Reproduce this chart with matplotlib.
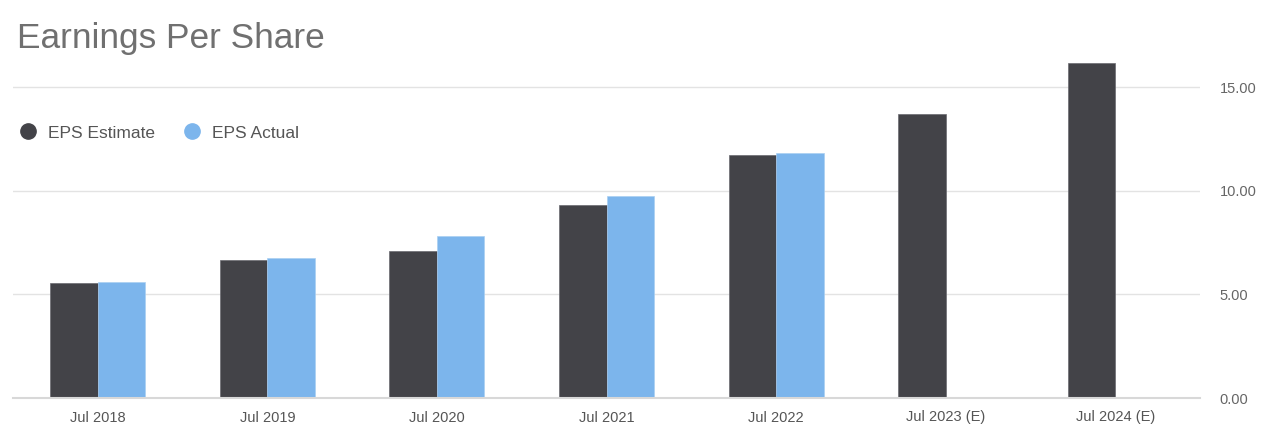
import matplotlib.pyplot as plt
import numpy as np
from matplotlib.lines import Line2D

plt.rcParams['font.family'] = ['Liberation Sans', 'DejaVu Sans']

# data
periods = ["Jul 2018", "Jul 2019", "Jul 2020", "Jul 2021", "Jul 2022",
           "Jul 2023 (E)", "Jul 2024 (E)"]
eps_estimate = [5.54, 6.65, 7.09, 9.31, 11.72, 13.69, 16.15]
eps_actual = [5.59, 6.75, 7.81, 9.74, 11.81, np.nan, np.nan]
y_ticks = [0, 5, 10, 15]

c_est = "#434348"
c_act = "#7cb5ec"

fig = plt.figure(figsize=(12.68, 4.28), dpi=100)
ax = fig.add_axes([13 / 1268, 1 - 398 / 428, (1200 - 13) / 1268, (398 - 56) / 428])

x = np.arange(len(periods))
w = 0.28
ax.bar(x - w / 2, eps_estimate, width=w, color=c_est, edgecolor="#6a6a70", linewidth=0.5, zorder=3)
ax.bar(x + w / 2, eps_actual, width=w, color=c_act, edgecolor="#a9cff2", linewidth=0.5, zorder=3)

ax.set_xlim(-0.5, len(periods) - 0.5)
ax.set_ylim(0, 16.5)
ax.set_xticks(x)
ax.set_xticklabels(periods)
ax.set_yticks(y_ticks)
ax.set_yticklabels([f"{v:.2f}" for v in y_ticks])
ax.yaxis.tick_right()
ax.tick_params(axis="y", length=0, pad=14, labelsize=10.5, labelcolor="#666666")
for lab in ax.get_yticklabels():
    lab.set_horizontalalignment("left")
ax.tick_params(axis="x", length=0, pad=9, labelsize=10.5, labelcolor="#555555")

ax.grid(axis="y", color="#e3e3e3", linewidth=1, zorder=0)
for s in ["top", "left", "right"]:
    ax.spines[s].set_visible(False)
ax.spines["bottom"].set_color("#d8d8d8")
ax.spines["bottom"].set_linewidth(1.5)
ax.spines["bottom"].set_zorder(4)

fig.text(17 / 1268, 1 - 48 / 428, "Earnings Per Share", fontsize=25.4,
         color="#707070", ha="left", va="baseline")

handles = [
    Line2D([], [], marker="o", linestyle="none", markersize=11, color=c_est),
    Line2D([], [], marker="o", linestyle="none", markersize=11, color=c_act),
]
fig.legend(handles, ["EPS Estimate", "EPS Actual"], loc="center left",
           bbox_to_anchor=(4 / 1268, 1 - 133 / 428), ncol=2, frameon=False,
           fontsize=12.5, labelcolor="#555555", handlelength=1.0,
           handletextpad=0.65, columnspacing=1.6)

fig.savefig("out.png", dpi=100)
